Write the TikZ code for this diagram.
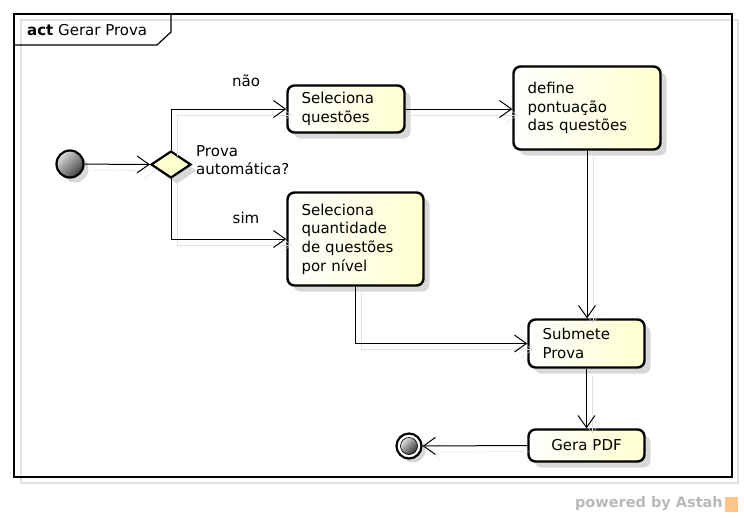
\documentclass[tikz,border=0pt]{standalone}
\usepackage{fontspec}
\setmainfont{DejaVu Sans}
\usetikzlibrary{arrows.meta,shapes.geometric,shadows}
\definecolor{ylw}{RGB}{255,255,208}
\definecolor{shd}{RGB}{216,216,216}
\definecolor{lshd}{RGB}{225,225,225}
\begin{document}
\begin{tikzpicture}[x=1pt,y=-1pt,
  every node/.style={font=\fontsize{15}{18.7}\selectfont},
  act/.style={draw, line width=2.4pt, rounded corners=7pt, left color=white, right color=ylw,
    drop shadow={shadow xshift=6pt, shadow yshift=-6pt, fill=shd, opacity=1},
    align=left, inner xsep=14pt, inner ysep=0pt},
  flow/.style={line width=1pt, -{Straight Barb[length=12pt,width=17pt]},
    preaction={draw=lshd, transform canvas={xshift=6pt,yshift=-6pt}}},
  lbl/.style={inner sep=0pt}]
\useasboundingbox (0,0) rectangle (744,517);
% frame
\draw[lshd, line width=1.2pt] (21,20) rectangle (738,483);
\draw[line width=1.2pt] (14,14) rectangle (732,477);
\draw[line width=1.2pt] (14,45) -- (157,45) -- (171,32) -- (171,14);
\node[lbl, anchor=west] (title) at (27,30) {\textbf{act} Gerar Prova};
% nodes
\node[circle, draw, line width=2.2pt, minimum size=27pt, inner sep=0pt,
  left color=gray!25, right color=black!75, shading angle=45,
  drop shadow={shadow xshift=5pt, shadow yshift=-5pt, fill=shd, opacity=1}] (ini) at (70,164) {};
\node[diamond, draw, line width=2.2pt, minimum width=40pt, minimum height=27pt, inner sep=0pt,
  fill=ylw, drop shadow={shadow xshift=6pt, shadow yshift=-6pt, fill=shd, opacity=1}] (dec) at (171,164.5) {};
\node[lbl, anchor=west, align=left] (declbl) at (196,160) {Prova\\automática?};
\node[act, text width=89pt, minimum height=47pt] (sq) at (346,109) {Seleciona\\questões};
\node[act, text width=119pt, minimum height=83pt] (dp) at (587,108) {define\\pontuação\\das questões};
\node[act, text width=108pt, minimum height=93pt] (qn) at (355.5,239) {Seleciona\\quantidade\\de questões\\por nível};
\node[act, text width=88pt, minimum height=48pt] (sp) at (586.5,343.5) {Submete\\Prova};
\node[act, text width=88pt, minimum height=32pt, align=center] (gp) at (586.5,445.5) {Gera PDF\hspace*{4pt}};
\node[circle, draw, line width=2.2pt, minimum size=25pt, inner sep=0pt, fill=white,
  drop shadow={shadow xshift=4pt, shadow yshift=-4pt, fill=shd, opacity=1}] (fin) at (409,446) {};
\fill[left color=gray!25, right color=black!80, shading angle=45, draw=black, line width=0.6pt] (fin.center) circle (8.5);
% labels
\node[lbl] (nao) at (246,81) {não};
\node[lbl] (sim) at (246,218) {sim};
% connectors
\draw[flow] (ini) -- (dec.west);
\draw[flow] (dec.north) |- (sq.west);
\draw[flow] (dec.south) |- (qn.west);
\draw[flow] (sq.east) -- (sq.east -| dp.west);
\draw[flow] (dp.south) -- (dp.south |- sp.north);
\draw[flow] (qn.south) |- (sp.west);
\draw[flow] (sp.south) -- (gp.north);
\draw[flow] (gp.west) -- (fin.east);
% footer
\node[lbl, anchor=east, text=gray!55, font=\bfseries\fontsize{14.5}{16}\selectfont] (pw) at (723,504) {powered by Astah};
\node[draw=none, fill=orange!45, minimum width=13pt, minimum height=15pt, inner sep=0pt] (logo) at (731,504) {};
\end{tikzpicture}
\end{document}
